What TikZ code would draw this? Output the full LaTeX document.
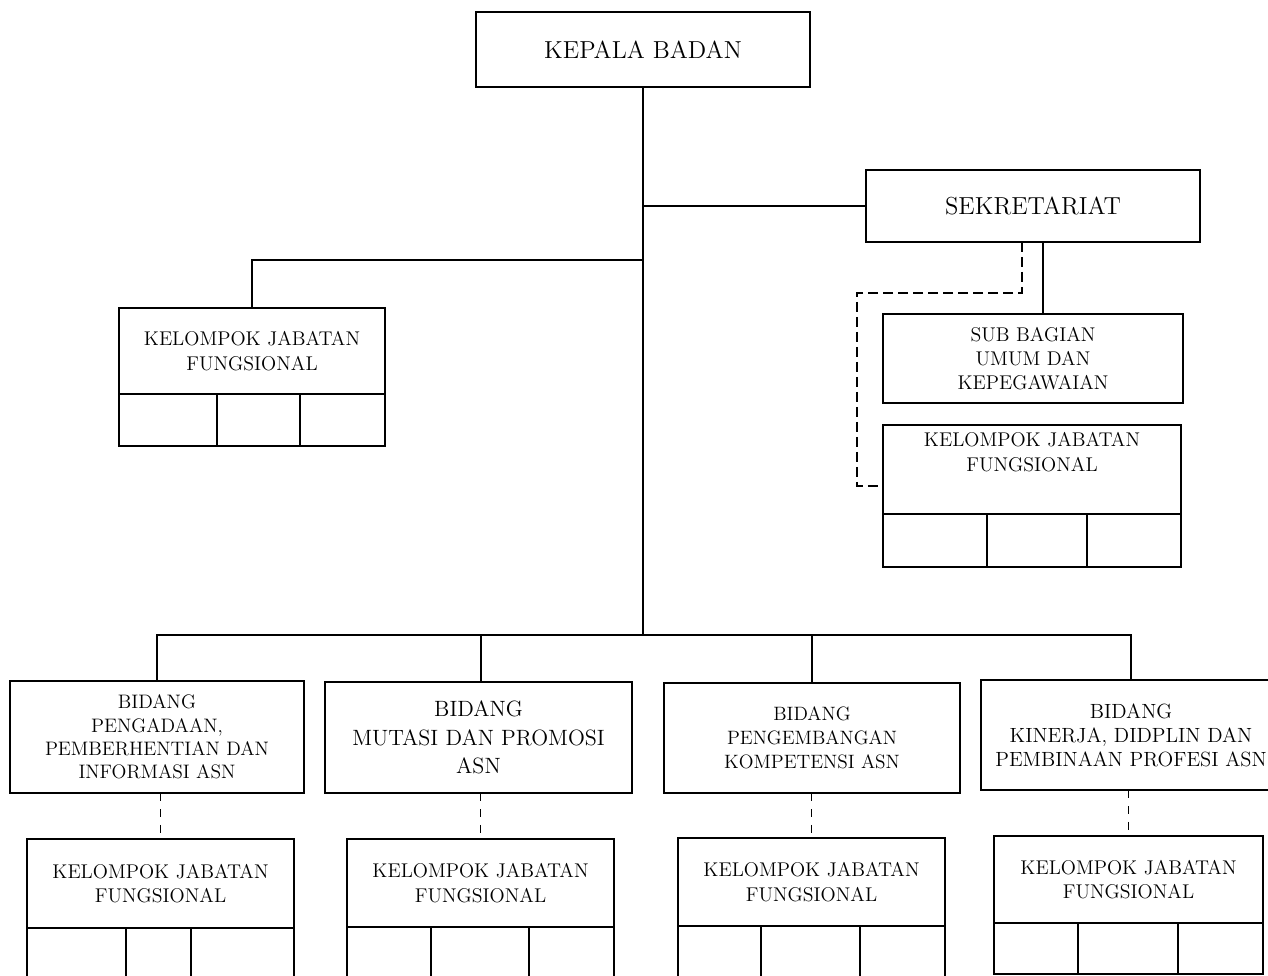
\documentclass[tikz,border=0pt]{standalone}
\usepackage{tikz}
\usetikzlibrary{positioning}
\newcommand\pxu{0.02cm}

\begin{document}
\begin{tikzpicture}[x=0.02cm,y=-0.02cm,line width=1pt,
    unit/.style={draw,line width=1pt,outer sep=0pt,inner sep=0pt,align=center,font=\fontsize{11.3}{13.8}\selectfont},
    head/.style={unit,font=\fontsize{14}{17}\selectfont},
    cell/.style={draw,line width=1pt,outer sep=0pt,inner sep=0pt,minimum height=#1*\pxu},
    sub/.style={dash pattern=on 0.2cm off 0.1cm},
    lnk/.style={line width=1.1pt,dash pattern=on 0.16cm off 0.16cm}]
  \useasboundingbox (0,0) rectangle (1268,976);
  \clip (0,0) rectangle (1268,976);
  % top level
  \node[head,minimum width=334*\pxu,minimum height=75*\pxu] (kepala) at (643,49.5) {KEPALA BADAN};
  \node[head,minimum width=334*\pxu,minimum height=72*\pxu] (sekr) at (1033,206) {SEKRETARIAT};
  \node[unit,minimum width=266*\pxu,minimum height=86*\pxu] (kjfL) at (252,351) {KELOMPOK JABATAN\\FUNGSIONAL};
  \node[cell=52,minimum width=98*\pxu,below right=0pt and 0pt of kjfL.south west] (kjfLa) {};
  \node[cell=52,minimum width=83*\pxu,right=0pt of kjfLa] (kjfLb) {};
  \node[cell=52,minimum width=85*\pxu,right=0pt of kjfLb] (kjfLc) {};
  % sekretariat side
  \node[unit,minimum width=300*\pxu,minimum height=89*\pxu] (sub) at (1033,358.5) {SUB BAGIAN\\UMUM DAN\\KEPEGAWAIAN};
  \node[unit,minimum width=298*\pxu,minimum height=89*\pxu] (kjfR) at (1032,469.5) {};
  \node[unit,draw=none] (kjfRt) at ([yshift=0.35cm]kjfR.center) {KELOMPOK JABATAN\\FUNGSIONAL};
  \node[cell=53,minimum width=104*\pxu,below right=0pt and 0pt of kjfR.south west] (kjfRa) {};
  \node[cell=53,minimum width=100*\pxu,right=0pt of kjfRa] (kjfRb) {};
  \node[cell=53,minimum width=94*\pxu,right=0pt of kjfRb] (kjfRc) {};
  % bidang
  \node[unit,minimum width=294*\pxu,minimum height=112*\pxu,font=\fontsize{11.1}{13.3}\selectfont] (b1) at (157,737)
    {BIDANG\\PENGADAAN,\\PEMBERHENTIAN DAN\\INFORMASI ASN};
  \node[unit,minimum width=307*\pxu,minimum height=111*\pxu,font=\fontsize{12.6}{16.2}\selectfont] (b2) at (478.5,737.5)
    {BIDANG\\MUTASI DAN PROMOSI\\ASN};
  \node[unit,minimum width=296*\pxu,minimum height=110*\pxu,font=\fontsize{11}{13.7}\selectfont] (b3) at (812,738)
    {BIDANG\\PENGEMBANGAN\\KOMPETENSI ASN};
  \node[unit,minimum width=300*\pxu,minimum height=110*\pxu,font=\fontsize{11.7}{13.7}\selectfont] (b4) at (1131,735)
    {BIDANG\\KINERJA, DIDPLIN DAN\\PEMBINAAN PROFESI ASN};
  % kelompok jabatan fungsional per bidang
  \node[unit,minimum width=267*\pxu,minimum height=89*\pxu] (k1) at (160.5,883.5) {KELOMPOK JABATAN\\FUNGSIONAL};
  \node[cell=60,minimum width=99*\pxu,below right=0pt and 0pt of k1.south west] (k1a) {};
  \node[cell=60,minimum width=65*\pxu,right=0pt of k1a] (k1b) {};
  \node[cell=60,minimum width=103*\pxu,right=0pt of k1b] (k1c) {};
  \node[unit,minimum width=267*\pxu,minimum height=88*\pxu] (k2) at (480.5,883) {KELOMPOK JABATAN\\FUNGSIONAL};
  \node[cell=60,minimum width=84*\pxu,below right=0pt and 0pt of k2.south west] (k2a) {};
  \node[cell=60,minimum width=98*\pxu,right=0pt of k2a] (k2b) {};
  \node[cell=60,minimum width=85*\pxu,right=0pt of k2b] (k2c) {};
  \node[unit,minimum width=267*\pxu,minimum height=88*\pxu] (k3) at (811.5,882) {KELOMPOK JABATAN\\FUNGSIONAL};
  \node[cell=60,minimum width=83*\pxu,below right=0pt and 0pt of k3.south west] (k3a) {};
  \node[cell=60,minimum width=99*\pxu,right=0pt of k3a] (k3b) {};
  \node[cell=60,minimum width=85*\pxu,right=0pt of k3b] (k3c) {};
  \node[unit,minimum width=269*\pxu,minimum height=87*\pxu] (k4) at (1128.5,879.5) {KELOMPOK JABATAN\\FUNGSIONAL};
  \node[cell=51,minimum width=84*\pxu,below right=0pt and 0pt of k4.south west] (k4a) {};
  \node[cell=51,minimum width=100*\pxu,right=0pt of k4a] (k4b) {};
  \node[cell=51,minimum width=85*\pxu,right=0pt of k4b] (k4c) {};
  % lines
  \coordinate (bar) at (643,635);
  \coordinate (jl) at (643,260);
  \coordinate (dl) at (857,293);
  \draw (kepala.south) -- (bar);
  \draw (kepala.south |- sekr.west) -- (sekr.west);
  \draw (kjfL.north) |- (jl);
  \draw (b1.north) |- (bar) -| (b4.north);
  \draw ([xshift=0.05cm]b2.north) -- ([xshift=0.05cm]b2.north |- bar);
  \draw (b3.north) -- (b3.north |- bar);
  \draw ([xshift=0.2cm]sekr.south) -- ([xshift=0.2cm]sub.north);
  \draw[sub] ([xshift=-0.22cm]sekr.south) |- (dl) |- ([yshift=-0.33cm]kjfR.west);
  \draw[lnk] (k1.north |- b1.south) -- (k1.north);
  \draw[lnk] (k2.north |- b2.south) -- (k2.north);
  \draw[lnk] (k3.north |- b3.south) -- (k3.north);
  \draw[lnk] (k4.north |- b4.south) -- (k4.north);
\end{tikzpicture}
\end{document}
